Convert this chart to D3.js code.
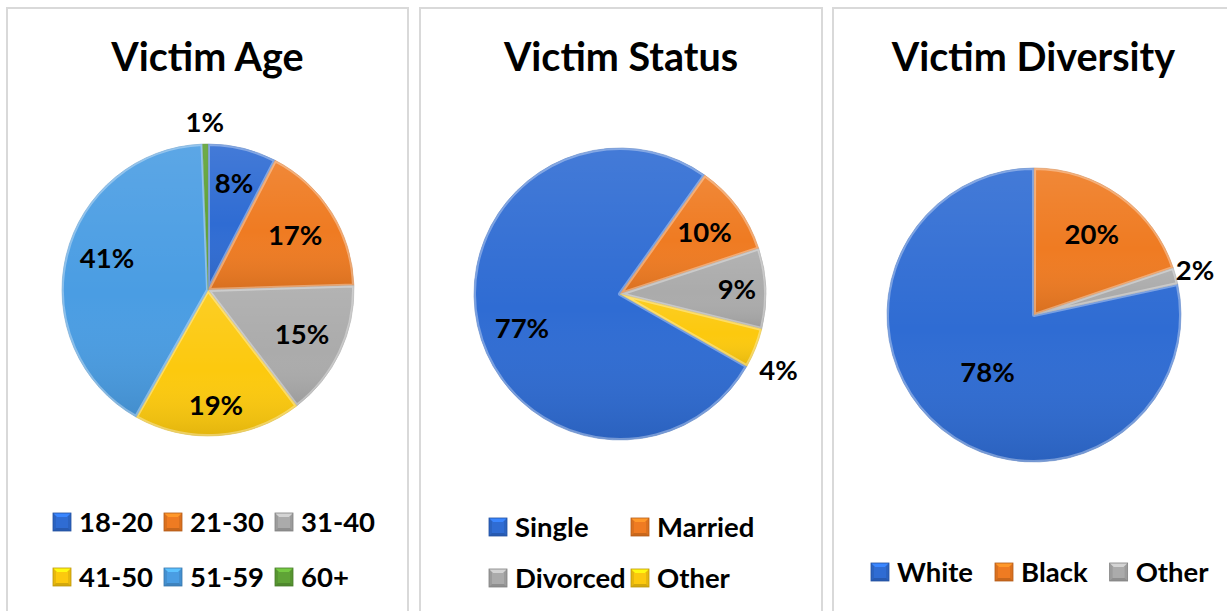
<!DOCTYPE html>
<html><head><meta charset="utf-8">
<script src="https://cdn.jsdelivr.net/npm/d3@7"></script>
<style>
body{margin:0;background:#fff;}
svg{display:block;font-family:Lato,'Open Sans',sans-serif;}
</style>
</head><body>
<svg id="c" width="1227" height="611"></svg>
<script>
// ---------- data ----------
const titles = ["Victim Age", "Victim Status", "Victim Diversity"];
const ageCategories = ["18-20", "21-30", "31-40", "41-50", "51-59", "60+"];
const ageValues = [7.6, 16.9, 15.1, 18.6, 41.2, 0.6];
const statusCategories = ["Single", "Married", "Divorced", "Other"];
const statusValues = [76.6, 10.1, 8.9, 4.4];
const diversityCategories = ["White", "Black", "Other"];
const diversityValues = [78.4, 19.8, 1.8];

// ---------- styles ----------
const C = {blue:"#2f6cd3", orange:"#ef7b22", gray:"#ababab", yellow:"#fcc90e", sky:"#4a9de3", green:"#5fa336"};
const ageColors = [C.blue, C.orange, C.gray, C.yellow, C.sky, C.green];
const statusColors = [C.blue, C.orange, C.gray, C.yellow];
const diversityColors = [C.blue, C.orange, C.gray];

// ---------- layout ----------
const charts = [
  {title: titles[0], cats: ageCategories, vals: ageValues, colors: ageColors,
   px0: 7, px1: 408, cx: 208, cy: 290, r: 146, start: 0,
   labelR: [110, 103, 104, 115, 106, 168], labelShift: [0, 0, 0, 0, 4, 0],
   legend: {type: "grid", cols: 3, colW: 111, x0: 53, rows: [522, 577]}},
  {title: titles[1], cats: statusCategories, vals: statusValues, colors: statusColors,
   px0: 420, px1: 822, cx: 620, cy: 294, r: 146, start: 119.7,
   labelR: [104, 105, 117, 176], labelShift: [-7, 0, 0, 4],
   legend: {type: "grid", cols: 2, colW: 142, x0: 489, rows: [527, 578]}},
  {title: titles[2], cats: diversityCategories, vals: diversityValues, colors: diversityColors,
   px0: 833, px1: 1240, cx: 1034, cy: 315, r: 147, start: 77.8,
   labelR: [74, 99, 167], labelShift: [0, 0, 0],
   legend: {type: "flow", x0: 871, y: 572, gap: 22}}
];

const svg = d3.select("#c");
const defs = svg.append("defs");
const rad = d => d * Math.PI / 180;
const pct = d3.format(".0%");

const lg = defs.append("linearGradient").attr("id", "shade").attr("x1", 0).attr("y1", 0).attr("x2", 0).attr("y2", 1);
lg.append("stop").attr("offset", "0%").attr("stop-color", "#fff").attr("stop-opacity", 0.10);
lg.append("stop").attr("offset", "55%").attr("stop-color", "#fff").attr("stop-opacity", 0);
lg.append("stop").attr("offset", "100%").attr("stop-color", "#000").attr("stop-opacity", 0.10);

charts.forEach((ch, ci) => {
  const g = svg.append("g");
  g.append("rect").attr("x", ch.px0).attr("y", 8).attr("width", ch.px1 - ch.px0).attr("height", 640)
    .attr("fill", "#fff").attr("stroke", "#d9d9d9").attr("stroke-width", 2);
  g.append("text").attr("x", (ch.px0 + ch.px1) / 2 + (ci === 2 ? -3 : 0)).attr("y", 71)
    .attr("text-anchor", "middle").attr("font-size", 39.5).attr("font-weight", 700).attr("fill", "#000")
    .text(ch.title);

  const total = d3.sum(ch.vals);
  const pie = d3.pie().sort(null).startAngle(rad(ch.start)).endAngle(rad(ch.start) + 2 * Math.PI);
  const arcs = pie(ch.vals);
  const arc = d3.arc().innerRadius(0).outerRadius(ch.r);
  const pg = g.append("g").attr("transform", `translate(${ch.cx},${ch.cy})`);

  arcs.forEach((a, i) => {
    const id = `clip${ci}_${i}`;
    defs.append("clipPath").attr("id", id).append("path").attr("d", arc(a))
      .attr("transform", `translate(${ch.cx},${ch.cy})`);
    pg.append("path").attr("d", arc(a)).attr("fill", ch.colors[i]);
    pg.append("path").attr("d", arc(a)).attr("fill", "url(#shade)");
    const small = (a.endAngle - a.startAngle) < 0.1;
    const cg = g.append("g").attr("clip-path", `url(#${id})`);
    cg.append("path").attr("transform", `translate(${ch.cx},${ch.cy})`).attr("d", arc(a))
      .attr("fill", "none").attr("stroke", "#fff").attr("stroke-opacity", small ? 0.1 : 0.35)
      .attr("stroke-width", small ? 1 : 4).attr("stroke-linejoin", "round");
    pg.append("path").attr("d", arc(a)).attr("fill", "none")
      .attr("stroke", d3.color(ch.colors[i]).darker(0.6)).attr("stroke-opacity", 0.5).attr("stroke-width", 0.8);
  });

  arcs.forEach((a, i) => {
    const mid = (a.startAngle + a.endAngle) / 2 + rad(ch.labelShift[i]);
    const lr = ch.labelR[i];
    g.append("text")
      .attr("x", ch.cx + lr * Math.sin(mid)).attr("y", ch.cy - lr * Math.cos(mid))
      .attr("dy", "0.36em").attr("text-anchor", "middle")
      .attr("font-size", 27.5).attr("font-weight", 700).attr("fill", "#000")
      .text(pct(a.value / total));
  });

  const L = ch.legend;
  let fx = L.x0;
  ch.cats.forEach((cat, i) => {
    let x, y;
    if (L.type === "grid") {
      x = L.x0 + (i % L.cols) * L.colW;
      y = L.rows[Math.floor(i / L.cols)];
    } else { x = fx; y = L.y; }
    const s = 18, col = d3.color(ch.colors[i]);
    const mg = g.append("g").attr("transform", `translate(${x},${y - s / 2})`);
    mg.append("rect").attr("width", s).attr("height", s).attr("fill", col.darker(0.25));
    mg.append("polygon").attr("points", `0,0 ${s},0 ${s/2},${s/2}`).attr("fill", col.brighter(0.6));
    mg.append("polygon").attr("points", `0,${s} ${s},${s} ${s/2},${s/2}`).attr("fill", col.darker(0.5));
    mg.append("rect").attr("x", 3).attr("y", 4).attr("width", s - 6).attr("height", s - 7).attr("fill", col);
    mg.append("rect").attr("width", s).attr("height", s).attr("fill", "none")
      .attr("stroke", col.darker(0.8)).attr("stroke-width", 0.8);
    const t = g.append("text").attr("x", x + 26).attr("y", y).attr("dy", "0.36em")
      .attr("font-size", 27.5).attr("font-weight", 700).attr("fill", "#000").text(cat);
    fx = x + 26 + t.node().getComputedTextLength() + L.gap;
  });
});
</script>
</body></html>
